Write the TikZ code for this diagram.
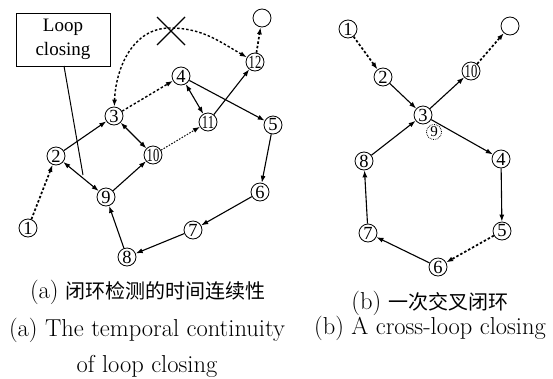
\documentclass[tikz,border=0pt]{standalone}
\usepackage{fontspec}
\usetikzlibrary{arrows.meta}
\newfontfamily\labelfont{Liberation Serif}
\newfontfamily\cjk{Noto Sans CJK SC}
\newcommand{\sq}[1]{\scalebox{0.68}[1]{#1}}
\tikzset{
  pose/.style={circle, draw, line width=0.8pt, minimum size=18pt, inner sep=0pt,
    font=\labelfont\fontsize{18.5}{18.5}\selectfont},
  ghost/.style={pose, densely dotted, minimum size=15pt, font=\labelfont\fontsize{15}{15}\selectfont},
  edge/.style={line width=1.1pt, -{Latex[length=7pt,width=5pt]}},
  both/.style={line width=1.1pt, {Latex[length=7pt,width=5pt]}-{Latex[length=7pt,width=5pt]}},
  heavydot/.style={line width=1.7pt, dash pattern=on 2.5pt off 2pt, -{Latex[length=7pt,width=5pt]}},
  thindot/.style={line width=1pt, dash pattern=on 1.5pt off 1.5pt, -{Latex[length=7pt,width=5pt]}},
  captext/.style={font=\fontsize{24.5}{24.5}\selectfont, anchor=center},
  cjktext/.style={font=\cjk\fontsize{20}{20}\selectfont}
}
\begin{document}
\begin{tikzpicture}[x=1pt,y=1pt]
\useasboundingbox (0,0) rectangle (553,-378);

% ---- left panel: temporal continuity ----
\node[pose] (a1) at (28,-228) {1};
\node[pose] (a2) at (56,-156) {2};
\node[pose] (a3) at (114,-116) {3};
\node[pose] (a4) at (181,-76) {4};
\node[pose] (a5) at (273,-125) {5};
\node[pose] (a6) at (260,-192) {6};
\node[pose] (a7) at (193,-230) {7};
\node[pose] (a8) at (127,-257) {8};
\node[pose] (a9) at (106,-197) {9};
\node[pose] (a10) at (153,-155) {\sq{10}};
\node[pose] (a11) at (208,-122) {\sq{11}};
\node[pose] (a12) at (255,-62) {\sq{12}};
\node[pose] (aend) at (262,-18) {};

\draw[heavydot] (a1) -- (a2);
\draw[edge] (a2) -- (a3);
\draw[both] (a2) -- (a9);
\draw[edge] (a9) -- (a10);
\draw[both] (a3) -- (a10);
\draw[heavydot, line width=1.4pt] (a3) -- (a4);
\draw[thindot] (a10) -- (a11);
\draw[both] (a4) -- (a11);
\draw[edge] (a11) -- (a12);
\draw[heavydot] (a12) -- (aend);
\draw[edge] (a4) -- (a5);
\draw[edge] (a5) -- (a6);
\draw[edge] (a6) -- (a7);
\draw[edge] (a7) -- (a8);
\draw[edge] (a8) -- (a9);

% rejected loop closure through the cross
\coordinate (apex) at (170,-28);
\draw[line width=1.4pt, dash pattern=on 2.5pt off 2pt,
  {Latex[length=7pt,width=5pt]}-{Latex[length=7pt,width=5pt]}]
  (a3) to[out=88,in=180] (apex) to[out=0,in=150] (a12);
\draw[line width=1.3pt] (157,-17) -- (185,-45) (157,-45) -- (185,-17);

% loop closing callout
\node[draw, line width=1pt, minimum width=94pt, minimum height=53pt, inner sep=0pt,
  align=center, font=\labelfont\fontsize{19}{24}\selectfont] (lc) at (63,-39.5) {Loop\\closing};
\coordinate (lcend) at (83,-175);
\draw[line width=1pt] (64,-66) -- (lcend);

% ---- right panel: cross-loop closing ----
\node[pose] (b1) at (348,-29) {1};
\node[pose] (b2) at (383,-77) {2};
\node[pose] (b3) at (423,-115) {3};
\node[ghost] (b9) at (434,-132) {9};
\node[pose] (b10) at (471,-71) {\sq{10}};
\node[pose] (bend) at (510,-26) {};
\node[pose] (b4) at (501,-159) {4};
\node[pose] (b5) at (502,-231) {5};
\node[pose] (b6) at (438,-267) {6};
\node[pose] (b7) at (368,-233) {7};
\node[pose] (b8) at (364,-161) {8};

\draw[heavydot] (b1) -- (b2);
\draw[edge] (b2) -- (b3);
\draw[edge] (b3) -- (b10);
\draw[heavydot] (b10) -- (bend);
\draw[edge] (b3) -- (b4);
\draw[edge] (b4) -- (b5);
\draw[heavydot] (b5) -- (b6);
\draw[edge] (b6) -- (b7);
\draw[edge] (b7) -- (b8);
\draw[edge] (b8) -- (b3);

% ---- captions ----
\node[captext] (capa) at (148,-292) {(a) {\cjk\fontsize{20}{20}\selectfont 闭环检测的时间连续性}};
\node[captext] (capa1) at (147,-330) {(a) The temporal continuity};
\node[captext] (capa2) at (147,-366) {of loop closing};
\node[captext] (capb) at (430,-303) {(b) {\cjk\fontsize{20}{20}\selectfont 一次交叉闭环}};
\node[captext] (capb1) at (430,-328) {(b) A cross-loop closing};
\end{tikzpicture}
\end{document}
